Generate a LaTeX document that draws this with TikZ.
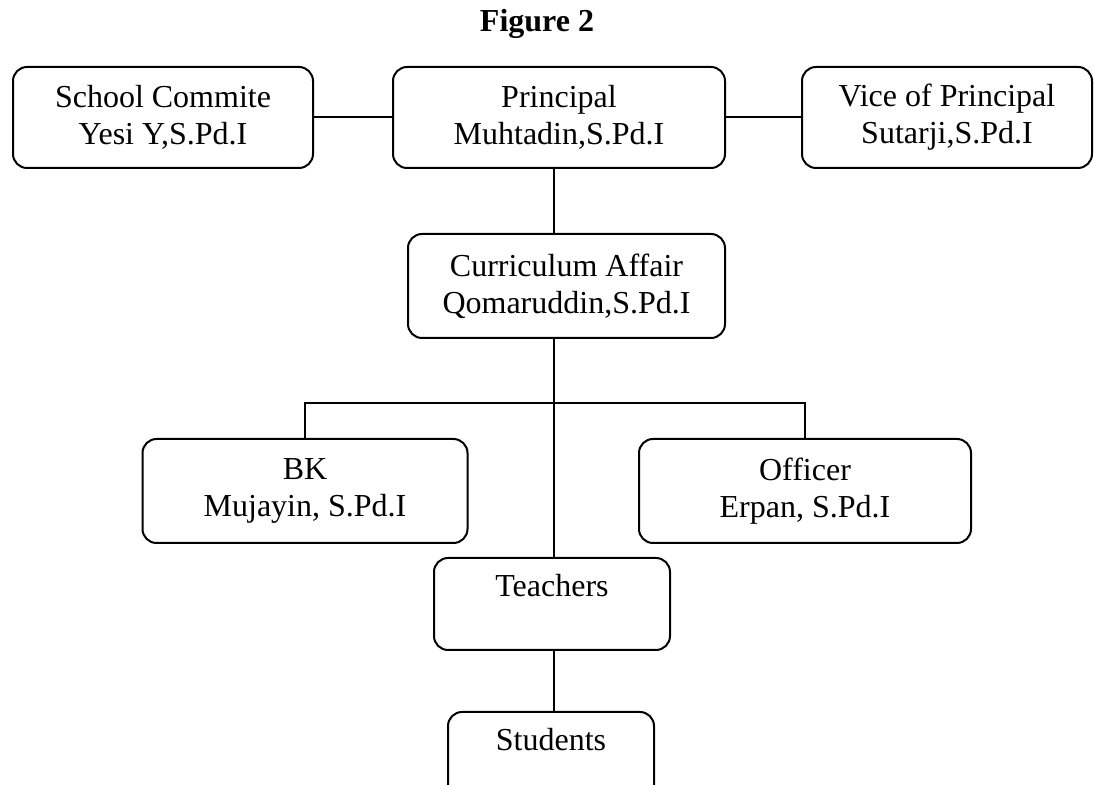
\documentclass[tikz,border=0pt]{standalone}
\usepackage{fontspec}
\setmainfont{Liberation Serif}
\usetikzlibrary{positioning}

\begin{document}
\begin{tikzpicture}[x=0.5pt, y=-0.5pt,
    post/.style={rectangle, rounded corners=7pt, draw, line width=1pt, align=center, inner sep=0pt, font=\fontsize{16}{18.5}\selectfont},
    link/.style={line width=1pt}
]
    \clip (0,0) rectangle (1094,785);
    \node[font=\fontsize{16}{18.5}\selectfont\bfseries] (title) at (537,24) {Figure 2};

    \node[post, minimum width=150pt, minimum height=50.5pt] (committee) at (163,117.5) {School Commite\\Yesi Y,S.Pd.I};
    \node[post, minimum width=166pt, minimum height=50.5pt] (principal) at (559,117.5) {Principal\\Muhtadin,S.Pd.I};
    \node[post, minimum width=145pt, minimum height=50.5pt] (vice) at (947,117.5) {Vice of Principal\\Sutarji,S.Pd.I};
    \node[post, minimum width=158.5pt, minimum height=52pt] (curriculum) at (566.5,286) {Curriculum Affair\\Qomaruddin,S.Pd.I};
    \node[post, minimum width=162.5pt, minimum height=52pt] (bk) at (305,491) {BK\\Mujayin, S.Pd.I};
    \node[post, minimum width=166pt, minimum height=52pt] (officer) at (805,491) {Officer\\Erpan, S.Pd.I};
    \node[post, minimum width=118pt, minimum height=46pt] (teachers) at (552,604) {Teachers\\\mbox{}};
    \node[post, minimum width=103pt, minimum height=46pt] (students) at (551,758) {Students\\\mbox{}};

    \coordinate (fork) at (554,403);

    \draw[link] (committee) -- (principal);
    \draw[link] (principal) -- (vice);
    \draw[link] (principal.south -| fork) -- (curriculum.north -| fork);
    \draw[link] (curriculum.south -| fork) -- (teachers.north -| fork);
    \draw[link] (bk.north) |- (fork) -| (officer.north);
    \draw[link] (teachers.south -| fork) -- (students.north -| fork);
\end{tikzpicture}
\end{document}
